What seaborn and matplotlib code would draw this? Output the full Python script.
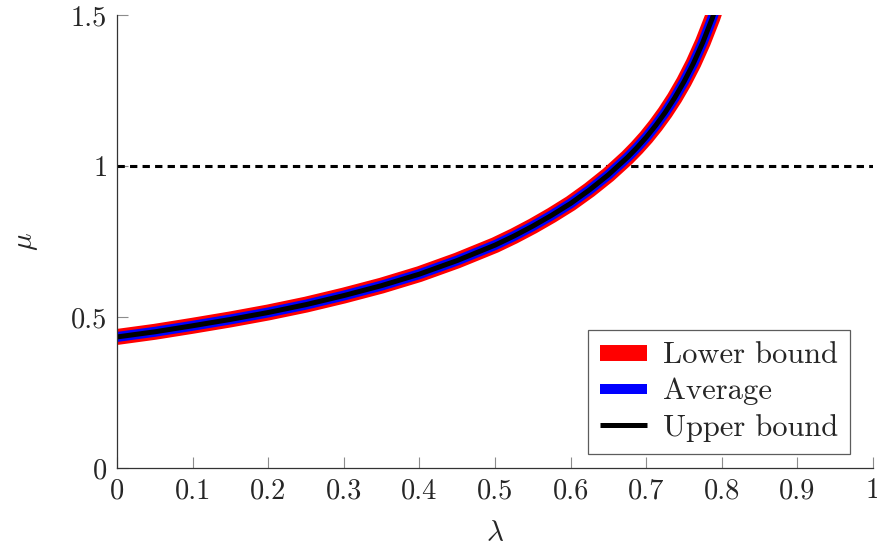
import numpy as np
import pandas as pd
import matplotlib
matplotlib.use("Agg")
import matplotlib.pyplot as plt
import seaborn as sns

sns.set_theme(style="ticks")
plt.rcParams["font.family"] = ["cmr10", "DejaVu Serif"]
plt.rcParams["mathtext.fontset"] = "cm"
plt.rcParams["axes.formatter.use_mathtext"] = True
plt.rcParams["lines.solid_capstyle"] = "butt"

# =====================
# DATA
# =====================
lam = [0.0, 0.05, 0.1, 0.15, 0.2, 0.25, 0.3, 0.35, 0.4, 0.45, 0.5,
       0.525, 0.55, 0.575, 0.6, 0.625, 0.65, 0.675, 0.6875, 0.7, 0.7125,
       0.725, 0.7375, 0.75, 0.7625, 0.775, 0.7875, 0.8]
mu_lower = [0.434, 0.451, 0.471, 0.492, 0.515, 0.541, 0.571, 0.604, 0.642, 0.687, 0.738,
            0.768, 0.801, 0.837, 0.876, 0.921, 0.971, 1.028, 1.060, 1.095, 1.134,
            1.177, 1.225, 1.279, 1.340, 1.410, 1.490, 1.582]
mu_avg = list(mu_lower)
mu_upper = list(mu_lower)
threshold = 1.0

series = ["Lower bound", "Average", "Upper bound"]
colors = {"Lower bound": "#ff0000", "Average": "#0000ff", "Upper bound": "#000000"}
widths = {"Lower bound": 11.5, "Average": 7.2, "Upper bound": 3.6}

xticks = [0, 0.1, 0.2, 0.3, 0.4, 0.5, 0.6, 0.7, 0.8, 0.9, 1]
xtick_labels = ["0", "0.1", "0.2", "0.3", "0.4", "0.5", "0.6", "0.7", "0.8", "0.9", "1"]
yticks = [0, 0.5, 1, 1.5]
ytick_labels = ["0", "0.5", "1", "1.5"]

df = pd.concat([
    pd.DataFrame({"lam": lam, "mu": mu_lower, "kind": "Lower bound"}),
    pd.DataFrame({"lam": lam, "mu": mu_avg, "kind": "Average"}),
    pd.DataFrame({"lam": lam, "mu": mu_upper, "kind": "Upper bound"}),
])

# =====================
# PLOT
# =====================
fig = plt.figure(figsize=(8.78, 5.49), dpi=100)
ax = fig.add_axes([0.1333, 0.1475, 0.861, 0.8252])

ax.axhline(threshold, color="black", lw=2.2, ls=(0, (2.4, 1.7)), zorder=1)

for s in series:
    sns.lineplot(data=df[df["kind"] == s], x="lam", y="mu", ax=ax,
                 color=colors[s], lw=widths[s], label=s, zorder=2,
                 solid_capstyle="butt")

ax.set_xlim(0, 1)
ax.set_ylim(0, 1.5)
ax.set_xticks(xticks)
ax.set_xticklabels(xtick_labels)
ax.set_yticks(yticks)
ax.set_yticklabels(ytick_labels)
ax.tick_params(direction="in", length=8, width=0.8, color="0.55",
               labelsize=20.5, pad=7)

for side in ["top", "right"]:
    ax.spines[side].set_visible(False)
for side in ["left", "bottom"]:
    ax.spines[side].set_color("0.2")
    ax.spines[side].set_linewidth(0.9)

ax.set_xlabel(r"$\lambda$", fontsize=21, labelpad=12)
ax.set_ylabel(r"$\mu$", fontsize=21, labelpad=22)

leg = ax.legend(loc="lower right", bbox_to_anchor=(0.9696, 0.031),
                borderaxespad=0, fontsize=22, frameon=True, fancybox=False,
                handlelength=1.55, handletextpad=0.5, labelspacing=0.28,
                borderpad=0.4)
leg.get_frame().set_edgecolor("0.2")
leg.get_frame().set_linewidth(0.9)

fig.savefig("out.png", dpi=100)
